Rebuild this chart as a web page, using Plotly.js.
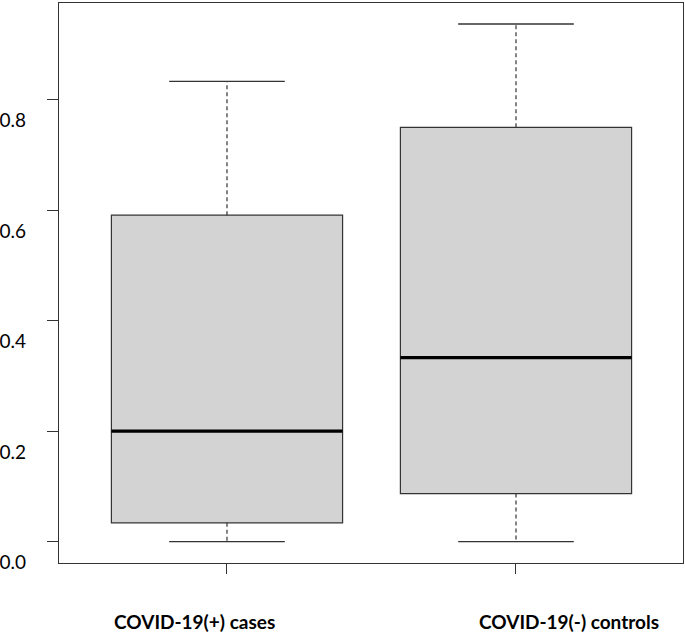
<!DOCTYPE html>
<html>
<head>
<meta charset="utf-8">
<script src="https://cdn.plot.ly/plotly-3.0.1.min.js"></script>
<style>
  body { margin: 0; background: #fff; }
  #myGraph { width: 685px; height: 632px; }
</style>
</head>
<body>
<div id="myGraph"></div>
<script>
// 兩組資料的名稱與箱型圖統計值
let groups = ['COVID-19(+) cases', 'COVID-19(-) controls'];
let lowWhisker = [0.0, 0.0];
let q1 = [0.034, 0.087];
let median = [0.200, 0.333];
let q3 = [0.591, 0.750];
let highWhisker = [0.833, 0.937];
let yTicks = [0, 0.2, 0.4, 0.6, 0.8];

let myGraph = document.getElementById('myGraph');
let data = [];

// 箱子本體 (鬚另外畫成虛線)
for (let i = 0; i < groups.length; i++) {
    data.push({
        type: 'box',
        name: groups[i],
        x: [i],
        q1: [q1[i]],
        median: [median[i]],
        q3: [q3[i]],
        lowerfence: [q1[i]],
        upperfence: [q3[i]],
        width: 0.8,
        whiskerwidth: 0,
        fillcolor: '#d3d3d3',
        line: {color: '#333333', width: 1.2},
        hoverinfo: 'skip'
    });
}

// 虛線鬚、上下橫線、粗中位數線
let whisker = {mode: 'lines', type: 'scatter', x: [], y: [],
    line: {color: '#333333', width: 1.2, dash: '4px,3px'}, hoverinfo: 'skip'};
let caps = {mode: 'lines', type: 'scatter', x: [], y: [],
    line: {color: '#333333', width: 1.3}, hoverinfo: 'skip'};
let med = {mode: 'lines', type: 'scatter', x: [], y: [],
    line: {color: '#000000', width: 3.2}, hoverinfo: 'skip'};

for (let i = 0; i < groups.length; i++) {
    whisker.x.push(i, i, null, i, i, null);
    whisker.y.push(q3[i], highWhisker[i], null, q1[i], lowWhisker[i], null);
    caps.x.push(i - 0.2, i + 0.2, null, i - 0.2, i + 0.2, null);
    caps.y.push(highWhisker[i], highWhisker[i], null, lowWhisker[i], lowWhisker[i], null);
    med.x.push(i - 0.4, i + 0.4, null);
    med.y.push(median[i], median[i], null);
}
data.push(whisker);
data.push(caps);
data.push(med);

let layout = {
    width: 685,
    height: 632,
    margin: {t: 3, r: 2, l: 59, b: 69},
    showlegend: false,
    paper_bgcolor: '#ffffff',
    plot_bgcolor: '#ffffff',
    font: {family: 'Lato, sans-serif', color: '#000000'},
    xaxis: {
        range: [-0.5813, 1.5779],
        tickvals: [0, 1],
        showticklabels: false,
        ticks: 'outside',
        ticklen: 10,
        tickcolor: '#333333',
        showline: true,
        mirror: true,
        linecolor: '#333333',
        linewidth: 1.2,
        showgrid: false,
        zeroline: false
    },
    yaxis: {
        range: [-0.0387, 0.975],
        tickvals: yTicks,
        tickformat: '.1f',
        ticks: 'outside',
        ticklen: 11,
        tickcolor: '#333333',
        ticklabelshift: 21,
        ticklabelstandoff: 17,
        tickfont: {size: 19, family: 'Lato, sans-serif'},
        showline: true,
        mirror: true,
        linecolor: '#333333',
        linewidth: 1.2,
        showgrid: false,
        zeroline: false
    },
    annotations: [
        {text: '<b>' + groups[0] + '</b>', xref: 'x', yref: 'paper', x: -0.112, y: -0.1036,
         yanchor: 'middle', xanchor: 'center', showarrow: false, font: {size: 19}},
        {text: '<b>' + groups[1] + '</b>', xref: 'x', yref: 'paper', x: 1.183, y: -0.1036,
         yanchor: 'middle', xanchor: 'center', showarrow: false, font: {size: 19}}
    ]
};

Plotly.newPlot(myGraph, data, layout, {displayModeBar: false});
</script>
</body>
</html>
